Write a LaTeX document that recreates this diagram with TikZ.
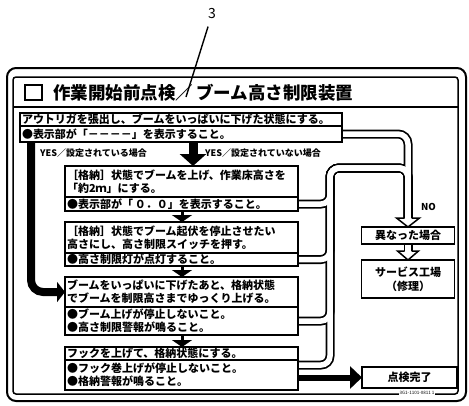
\documentclass[tikz,border=0pt]{standalone}
\usepackage{fontspec}
\setmainfont{Noto Sans CJK JP}
\usetikzlibrary{
  calc,
  positioning,
  arrows.meta,
  backgrounds
}

\begin{document}
\begin{tikzpicture}[x=1pt, y=-1pt, >=Latex]
  \tikzset{
    flowbox/.style={
      draw, line width=1.7pt, outer sep=0pt, inner xsep=2pt, inner ysep=0.5pt,
      text width=#1, align=left, font=\bfseries\fontsize{11}{13}\selectfont
    },
    flowbox/.default=229pt,
    sidebox/.style={
      draw, line width=1.7pt, outer sep=0pt, inner sep=1pt, align=center,
      minimum width=93, font=\bfseries\fontsize{11}{14}\selectfont
    },
    yeslabel/.style={anchor=west, inner sep=0pt, font=\bfseries\fontsize{9}{11}\selectfont},
    bigarrow/.style={line width=9pt, -{Triangle[width=26pt,length=12pt]}},
    smallarrow/.style={line width=3pt, -{Triangle[width=20pt,length=7pt]}},
    hollowhead/.style={fill=white, line width=1.5pt}
  }
\useasboundingbox (0,0) rectangle (469,405);

% label frame
\draw[line width=2pt, rounded corners=9pt] (7,68) rectangle (466,401);
\draw[line width=1.5pt, rounded corners=3pt] (13,77) rectangle (458,394);
\draw[line width=1.5pt] (13,107) -- (458,107);

\node[draw, line width=1.6pt, minimum width=17, minimum height=15] (chk) at (33.5,92.5) {};
\node[anchor=west, inner sep=0pt, font=\bfseries\fontsize{17.5}{20}\selectfont] (ttl) at (53,93)
  {作業開始前点検／\hspace{3pt}ブーム高さ制限装置};

% leader
\node[font=\fontsize{14}{16}\selectfont] (num) at (212,14) {3};
\coordinate (tip) at (186,97);
\draw[line width=1.4pt, shorten <=4pt] (num) -- (tip);

% check steps
\node[flowbox=318pt, minimum height=13, anchor=north west] (b1a) at (20,113)
  {アウトリガを張出し、ブームをいっぱいに下げた状態にする。};
\node[flowbox=318pt, minimum height=16, below=0pt of b1a] (b1b)
  {●表示部が「－－－－」を表示すること。};

\node[flowbox, minimum height=31, anchor=north west] (b2a) at (65,166)
  {［格納］状態でブームを上げ、作業床高さを\\「約2ｍ」にする。};
\node[flowbox, minimum height=14, below=0pt of b2a] (b2b)
  {●表示部が「\,０．０」を表示すること。};

\node[flowbox, minimum height=31, anchor=north west] (b3a) at (65,222)
  {［格納］状態でブーム起伏を停止させたい\\高さにし、高さ制限スイッチを押す。};
\node[flowbox, minimum height=13, below=0pt of b3a] (b3b)
  {●高さ制限灯が点灯すること。};

\node[flowbox, minimum height=30, anchor=north west] (b4a) at (65,277)
  {ブームをいっぱいに下げたあと、格納状態\\でブームを制限高さまでゆっくり上げる。};
\node[flowbox, minimum height=28, below=0pt of b4a] (b4b)
  {●ブーム上げが停止しないこと。\\●高さ制限警報が鳴ること。};

\node[flowbox, minimum height=13, anchor=north west] (b5a) at (65,347)
  {フックを上げて、格納状態にする。};
\node[flowbox, minimum height=30, below=0pt of b5a] (b5b)
  {●フック巻上げが停止しないこと。\\●格納警報が鳴ること。};

% results
\node[sidebox, minimum height=17] (ng) at (408,235.5) {異なった場合};
\node[sidebox, minimum height=38] (sv) at (408,279) {サービス工場\\（修理）};
\node[sidebox, minimum height=21, minimum width=95] (ok) at (409.5,377.5) {点検完了};

\node[yeslabel] (yes1) at (40,153) {YES／設定されている場合};
\node[yeslabel] (yes2) at (205,153) {YES／設定されていない場合};
\node[yeslabel, font=\bfseries\fontsize{9.5}{10}\selectfont] (no) at (421,207) {NO};

% black arrows
\coordinate (big) at (193,0);
\coordinate (sm) at (182,0);
\coordinate (lft) at (31,0);
\draw[bigarrow] (b1b.south -| big) -- (b2a.north -| big);
\draw[smallarrow] (b2b.south -| sm) -- (b3a.north -| sm);
\draw[smallarrow] (b3b.south -| sm) -- (b4a.north -| sm);
\draw[smallarrow] (b4b.south -| sm) -- (b5a.north -| sm);
\draw[line width=8pt, rounded corners=12pt, -{Triangle[width=20pt,length=8pt]}]
  (b1b.south -| lft) |- (b4a.west);
\draw[line width=6pt, -{Triangle[width=22pt,length=12pt]}] (ok.west -| b5b.east) -- (ok.west);

% hollow pipes
\coordinate (bus) at (330,168);
\coordinate (hd1) at (408,218);
\coordinate (hd2) at (408,251);
\coordinate (b5x) at ($(b5b.east)+(0,-10)$);
\begin{scope}[on background layer]
\foreach \w/\c in {9pt/black,5.5pt/white}{
  \draw[line width=\w, draw=\c, rounded corners=10pt] (b1b.east) -| (hd1);
  \foreach \r in {b2b.east,b3b.east,b4b.east,b5x}
    \draw[line width=\w, draw=\c, rounded corners=9pt] (\r) -- (\r -| bus) -- (bus) -| (hd1);
  \draw[line width=\w, draw=\c] (ng.south) -- (hd2);
}
\end{scope}
\filldraw[hollowhead] ($(hd1)+(-3.5,0)$) -- ++(-8,0) -- (ng.north) -- ($(hd1)+(11.5,0)$) -- ++(-8,0);
\filldraw[hollowhead] ($(hd2)+(-3.5,0)$) -- ++(-7,0) -- (sv.north) -- ($(hd2)+(10.5,0)$) -- ++(-7,0);

\node[fill=white, inner sep=0.5pt, font=\fontsize{4.5}{5}\selectfont] (code) at (417,393) {3G1-1101-0811 1};

\end{tikzpicture}
\end{document}
